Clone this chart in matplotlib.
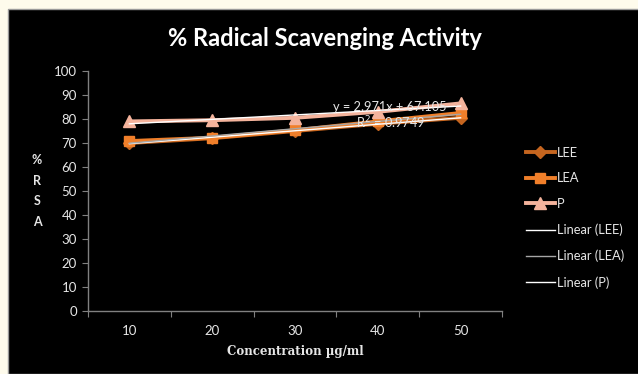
import numpy as np
import matplotlib.pyplot as plt
from matplotlib.patches import Rectangle

# data
conc = ['10', '20', '30', '40', '50']
lee = [70.0, 72.0, 75.0, 78.0, 80.5]
lea = [70.8, 72.2, 75.3, 79.0, 82.5]
p = [79.0, 79.5, 80.5, 83.0, 86.5]

W, H = 638, 374
fig = plt.figure(figsize=(W / 100, H / 100), dpi=100)
fig.patch.set_facecolor('#fefbec')
fig.patches.append(Rectangle((8 / W, 0), 1, 1 - 9 / H, transform=fig.transFigure,
                             facecolor='black', edgecolor='#9a9a9a', linewidth=1.0, zorder=-5))

ax = fig.add_axes([88 / W, 1 - 311 / H, (502 - 88) / W, (311 - 71) / H])
ax.set_zorder(2)
ax.set_facecolor('black')

x = np.arange(1, 6)
txt = '#e6e6e6'
font = 'Lato'

ax.plot(x, lee, color='#c5651f', marker='D', markersize=6, linewidth=2.8, label='LEE', zorder=3)
ax.plot(x, lea, color='#f07f2a', marker='s', markersize=7, linewidth=2.8, label='LEA', zorder=3)
ax.plot(x, p, color='#f4b39c', marker='^', markersize=8, linewidth=2.8, label='P', zorder=3)

# linear trendlines
for ys, c, name in [(lee, 'white', 'Linear (LEE)'), (lea, '#a6a6a6', 'Linear (LEA)'), (p, 'white', 'Linear (P)')]:
    k, b = np.polyfit(x, ys, 1)
    ax.plot(x, k * x + b, color=c, linewidth=1.0, label=name, zorder=4)

ax.text(4.15, 85.0, 'y = 2.971x + 67.105', color=txt, fontsize=9.2, family=font, ha='center', va='center', zorder=5)
ax.text(4.15, 78.3, 'R$^2$ = 0.9749', color=txt, fontsize=9.2, family=font, ha='center', va='center', zorder=5)

ax.set_xlim(0.5, 5.5)
ax.set_ylim(0, 100)
ax.set_yticks(range(0, 101, 10))
ax.set_xticks(np.arange(0.5, 5.6, 1))
ax.set_xticklabels([])
ax.set_xticks(x, minor=True)
ax.set_xticklabels(conc, minor=True)
ax.tick_params(axis='x', which='major', length=4, color='#808080', direction='out')
ax.tick_params(axis='x', which='minor', length=0, pad=10, labelcolor=txt, labelsize=9.5)
ax.tick_params(axis='y', length=4, color='#808080', labelcolor=txt, labelsize=9.5, pad=4)
for lbl in ax.get_xticklabels(minor=True) + ax.get_yticklabels():
    lbl.set_family(font)

for s in ['top', 'right']:
    ax.spines[s].set_visible(False)
for s in ['left', 'bottom']:
    ax.spines[s].set_color('#808080')
    ax.spines[s].set_linewidth(1.0)

fig.text(325 / W, 1 - 38 / H, '% Radical Scavenging Activity', color='white', fontsize=17,
         fontweight='bold', family=font, ha='center', va='center')
fig.text(295 / W, 1 - 352 / H, 'Concentration µg/ml', color=txt, fontsize=8.5,
         fontweight='bold', family='DejaVu Serif', ha='center', va='center')
fig.text(37 / W, 1 - 191 / H, '%\nR\nS\nA', color=txt, fontsize=9, fontweight='bold',
         family=font, ha='center', va='center', linespacing=1.85)

leg = fig.legend(loc='upper left', bbox_to_anchor=(514 / W, 1 - 135 / H), frameon=False,
                 handlelength=2.3, handletextpad=0.15, labelspacing=1.06,
                 prop={'family': font, 'size': 9.3})
for t in leg.get_texts():
    t.set_color(txt)

fig.savefig('out.png', dpi=100, facecolor=fig.get_facecolor())
